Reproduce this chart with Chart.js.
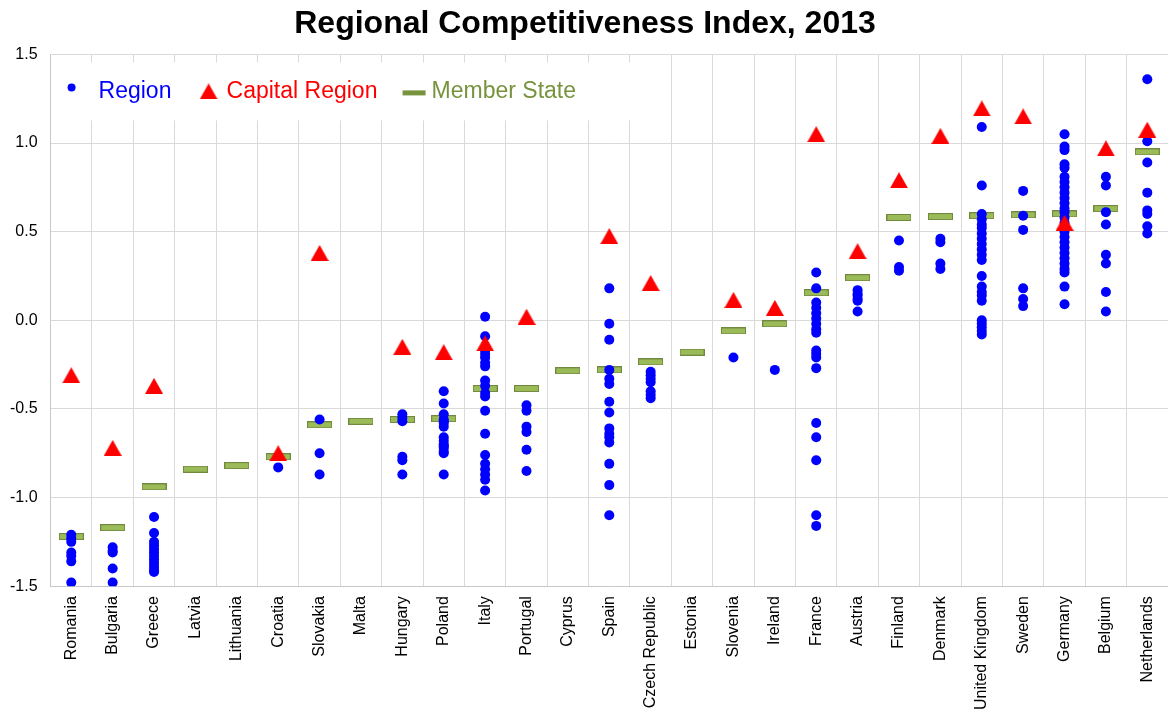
<!DOCTYPE html>
<html>
<head>
<meta charset="utf-8">
<title>Regional Competitiveness Index, 2013</title>
<script src="https://cdn.jsdelivr.net/npm/chart.js"></script>
<style>
  html, body { margin: 0; padding: 0; background: #fff; }
  #wrap { width: 1168px; height: 713px; position: relative; }
</style>
</head>
<body>
<div id="wrap"><canvas id="rciChart"></canvas></div>
<script>
// --- data ---
let countries = ["Romania", "Bulgaria", "Greece", "Latvia", "Lithuania", "Croatia", "Slovakia", "Malta",
  "Hungary", "Poland", "Italy", "Portugal", "Cyprus", "Spain", "Czech Republic", "Estonia", "Slovenia",
  "Ireland", "France", "Austria", "Finland", "Denmark", "United Kingdom", "Sweden", "Germany", "Belgium",
  "Netherlands"];

let memberState = [-1.22, -1.17, -0.94, -0.84, -0.82, -0.77, -0.59, -0.57, -0.56, -0.555, -0.385, -0.385,
  -0.285, -0.28, -0.235, -0.18, -0.06, -0.02, 0.155, 0.24, 0.58, 0.585, 0.59, 0.595, 0.60, 0.63, 0.95];

// null = no separate capital region
let capitalRegion = [-0.31, -0.72, -0.37, null, null, -0.75, 0.38, null, -0.15, -0.18, -0.13, 0.02,
  null, 0.475, 0.21, null, 0.115, 0.07, 1.05, 0.39, 0.79, 1.04, 1.195, 1.15, 0.55, 0.97, 1.075];

// other regions, one list per country (same order as countries)
let regions = [
  [-1.21, -1.23, -1.25, -1.31, -1.33, -1.36, -1.48],
  [-1.28, -1.30, -1.31, -1.40, -1.48],
  [-1.11, -1.20, -1.25, -1.27, -1.29, -1.31, -1.33, -1.35, -1.37, -1.39, -1.41, -1.42],
  [],
  [],
  [-0.83],
  [-0.56, -0.75, -0.87],
  [],
  [-0.53, -0.55, -0.57, -0.77, -0.79, -0.87],
  [-0.40, -0.47, -0.53, -0.56, -0.57, -0.58, -0.60, -0.66, -0.68, -0.70, -0.71, -0.72, -0.74, -0.75, -0.87],
  [0.02, -0.09, -0.17, -0.19, -0.21, -0.24, -0.26, -0.34, -0.37, -0.41, -0.43, -0.51, -0.64, -0.76, -0.81,
    -0.84, -0.87, -0.90, -0.96],
  [-0.48, -0.51, -0.60, -0.63, -0.73, -0.85],
  [],
  [0.18, -0.02, -0.11, -0.28, -0.33, -0.36, -0.46, -0.52, -0.61, -0.64, -0.66, -0.69, -0.81, -0.93, -1.10],
  [-0.29, -0.31, -0.33, -0.35, -0.40, -0.42, -0.44],
  [],
  [-0.21],
  [-0.28],
  [0.27, 0.18, 0.10, 0.07, 0.04, 0.01, -0.02, -0.05, -0.07, -0.17, -0.19, -0.21, -0.27, -0.58, -0.66,
    -0.79, -1.10, -1.16],
  [0.17, 0.15, 0.14, 0.12, 0.11, 0.05],
  [0.45, 0.30, 0.28],
  [0.46, 0.44, 0.32, 0.29],
  [1.09, 0.76, 0.60, 0.57, 0.54, 0.52, 0.49, 0.46, 0.43, 0.40, 0.37, 0.34, 0.25, 0.19, 0.16, 0.14, 0.11,
    0.0, -0.02, -0.04, -0.06, -0.08],
  [0.73, 0.59, 0.51, 0.18, 0.12, 0.08],
  [1.05, 0.98, 0.96, 0.88, 0.86, 0.81, 0.78, 0.75, 0.72, 0.69, 0.66, 0.63, 0.61, 0.58, 0.55, 0.52, 0.50,
    0.47, 0.44, 0.41, 0.38, 0.35, 0.32, 0.29, 0.27, 0.19, 0.09],
  [0.81, 0.76, 0.61, 0.54, 0.37, 0.32, 0.16, 0.05],
  [1.36, 1.01, 0.89, 0.72, 0.62, 0.60, 0.53, 0.49]
];

let yTicks = [-1.5, -1.0, -0.5, 0.0, 0.5, 1.0, 1.5];

let FONT = "Arial, 'Liberation Sans', sans-serif";



// marker images (centered on their box, like the original markers)
function makeTriangle(w, h, color) {
  let c = document.createElement("canvas");
  c.width = w;
  c.height = h;
  let ctx = c.getContext("2d");
  ctx.fillStyle = color;
  ctx.beginPath();
  ctx.moveTo(w / 2, 0);
  ctx.lineTo(w, h);
  ctx.lineTo(0, h);
  ctx.closePath();
  ctx.fill();
  return c;
}

function makeDash(w, h, fill, stroke) {
  let c = document.createElement("canvas");
  c.width = w;
  c.height = h;
  let ctx = c.getContext("2d");
  ctx.fillStyle = fill;
  ctx.fillRect(0, 0, w, h);
  ctx.strokeStyle = stroke;
  ctx.lineWidth = 1;
  ctx.strokeRect(0.5, 0.5, w - 1, h - 1);
  return c;
}

let triangleImg = makeTriangle(18, 16, "#ff0000");
let dashImg = makeDash(25, 7, "#9bbb59", "#71893f");



// build point lists from the arrays
let regionPoints = [];
for (let i = 0; i < countries.length; i++) {
  for (let v of regions[i]) {
    regionPoints.push({ x: countries[i], y: v });
  }
}

let capitalPoints = [];
for (let i = 0; i < countries.length; i++) {
  if (capitalRegion[i] !== null) {
    capitalPoints.push({ x: countries[i], y: capitalRegion[i] });
  }
}

let memberPoints = countries.map((c, i) => ({ x: c, y: memberState[i] }));



// legend drawn inside the plot on a white box, under the markers
let boxLegend = {
  id: "boxLegend",
  beforeDatasetsDraw(chart) {
    let ctx = chart.ctx;
    let area = chart.chartArea;
    let ds = chart.data.datasets;
    ctx.save();
    ctx.fillStyle = "#ffffff";
    ctx.fillRect(area.left + 1, area.top + 8, 580, 58);

    let cy = area.top + 37;
    ctx.font = "23px " + FONT;
    ctx.textBaseline = "middle";
    ctx.textAlign = "left";

    // Region
    ctx.fillStyle = "#0000ff";
    ctx.beginPath();
    ctx.arc(area.left + 21, cy - 4, 4, 0, Math.PI * 2);
    ctx.fill();
    ctx.fillText(ds[0].label, area.left + 48, cy);

    // Capital Region
    ctx.drawImage(triangleImg, area.left + 149, cy - 8);
    ctx.fillStyle = "#ff0000";
    ctx.fillText(ds[1].label, area.left + 176, cy);

    // Member State
    ctx.fillStyle = "#77933c";
    ctx.fillRect(area.left + 352, cy - 1, 23, 5);
    ctx.fillText(ds[2].label, area.left + 381, cy);
    ctx.restore();
  }
};



let ctx = document.getElementById("rciChart").getContext("2d");

new Chart(ctx, {
  type: "line",
  data: {
    labels: countries,
    datasets: [{
        label: "Region",
        data: regionPoints,
        showLine: false,
        pointStyle: "circle",
        pointRadius: 5,
        pointBorderWidth: 0,
        backgroundColor: "#0000ff",
        borderColor: "#0000ff",
        order: 1
      },
      {
        label: "Capital Region",
        data: capitalPoints,
        showLine: false,
        pointStyle: triangleImg,
        backgroundColor: "#ff0000",
        borderColor: "#ff0000",
        order: 0
      },
      {
        label: "Member State",
        data: memberPoints,
        showLine: false,
        pointStyle: dashImg,
        backgroundColor: "#9bbb59",
        borderColor: "#71893f",
        order: 2
      }
    ]
  },
  options: {
    responsive: true,
    maintainAspectRatio: false,
    animation: false,
    layout: {
      autoPadding: false,
      padding: { left: -3, right: -5, top: 0, bottom: -7 }
    },
    plugins: {
      legend: { display: false },
      tooltip: { enabled: false },
      title: {
        display: true,
        text: "Regional Competitiveness Index, 2013",
        color: "#000000",
        font: { family: FONT, size: 32, weight: "bold" },
        padding: { top: 5, bottom: 11 }
      }
    },
    scales: {
      x: {
        type: "category",
        offset: true,
        grid: { offset: true, color: "#d9d9d9", drawTicks: false },
        border: { color: "#c8c8c8" },
        ticks: {
          color: "#000000",
          font: { family: FONT, size: 16 },
          minRotation: 90,
          maxRotation: 90,
          autoSkip: false,
          padding: 10
        },
        // the original plot runs past the right edge of the picture
        afterFit(axis) {
          axis.paddingLeft = 0;
          axis.paddingRight = -20;
        }
      },
      y: {
        min: yTicks[0],
        max: yTicks[yTicks.length - 1],
        afterBuildTicks(axis) {
          axis.ticks = yTicks.map(v => ({ value: v }));
        },
        afterFit(axis) {
          axis.paddingRight = -20;
        },
        grid: { color: "#d9d9d9", drawTicks: false },
        border: { color: "#c8c8c8" },
        ticks: {
          color: "#000000",
          font: { family: FONT, size: 16 },
          padding: 13,
          callback: v => v.toFixed(1)
        }
      }
    }
  },
  plugins: [boxLegend]
});
</script>
</body>
</html>
